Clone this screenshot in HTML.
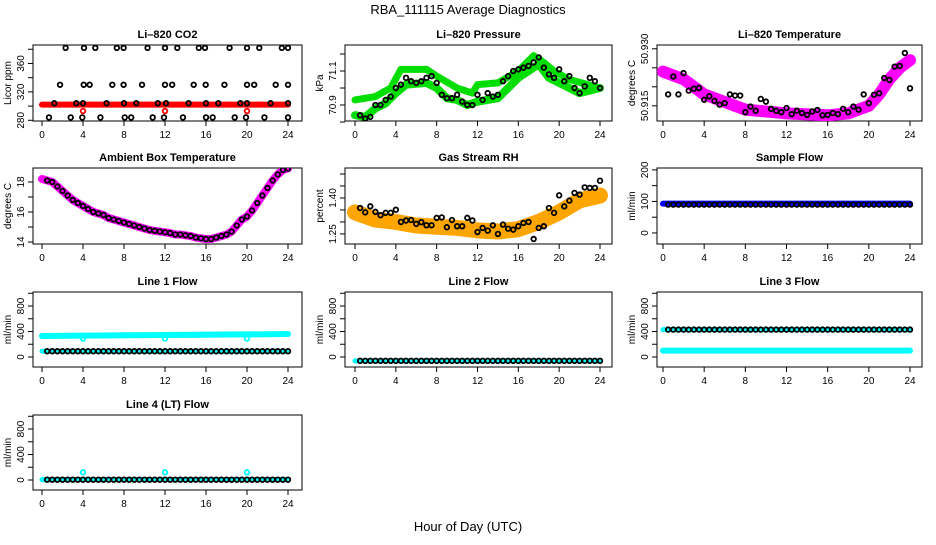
<!DOCTYPE html>
<html><head><meta charset="utf-8"><style>
body{margin:0;background:#fff}
svg text{font-family:"Liberation Sans",Arial,sans-serif;fill:#000}
</style></head><body>
<svg id="chart" width="936" height="540" viewBox="0 0 936 540" xmlns="http://www.w3.org/2000/svg">
<text x="468" y="14" font-size="13" text-anchor="middle">RBA_111115  Average Diagnostics</text>
<text x="468" y="531" font-size="13" text-anchor="middle">Hour of Day (UTC)</text>
</svg>
<script>
// ---- data ----
const xTicks = [0,4,8,12,16,20,24];
const halfHours = [0.5,1,1.5,2,2.5,3,3.5,4,4.5,5,5.5,6,6.5,7,7.5,8,8.5,9,9.5,10,10.5,11,11.5,12,12.5,13,13.5,14,14.5,15,15.5,16,16.5,17,17.5,18,18.5,19,19.5,20,20.5,21,21.5,22,22.5,23,23.5,24];

// CO2
const co2TopHours = [2.3,4.1,5.2,7.3,7.96,10.3,12.0,13.2,15.3,15.9,18.3,20.0,21.2,23.4,24.0];
const co2MidHours = [1.76,4.07,4.65,6.86,7.96,9.76,12.0,12.7,14.8,15.97,17.8,20.0,20.7,22.8,24.0];
const co2LowHours = [1.2,3.35,4.0,6.3,8.0,9.2,11.3,12.1,14.3,16.0,17.2,19.35,20.0,22.3,24.0];
const co2BotHours = [0.68,2.8,3.93,5.7,8.07,8.7,10.8,11.9,13.75,16.0,16.65,18.8,19.9,21.7,24.0];
const co2Levels = [382,330,304,284];
const co2RedOutHours = [4,12,20];
const co2RedOutValue = 293;
const co2BandHours = [0,24];
const co2BandValues = [302,302];

// Pressure
const presUpperHours = [0,2,3.5,4.5,7,8,10,11.5,12,14,16,17.5,18.5,19.5,21,24];
const presUpperValues = [70.93,70.95,71.0,71.11,71.11,71.07,71.0,70.97,71.02,71.03,71.10,71.19,71.15,71.1,71.05,71.0];
const presLowerHours = [0,1,2,3,4,5,7,8,9,10,11,12,14,15,16,17,18,19,20,22,24];
const presLowerValues = [70.84,70.83,70.88,70.91,70.97,71.02,71.03,71.0,70.94,70.93,70.9,70.92,70.94,71.0,71.06,71.1,71.14,71.06,71.03,70.97,71.0];
const presBlack = [70.84,70.82,70.83,70.9,70.9,70.93,70.95,71.0,71.02,71.06,71.04,71.03,71.04,71.06,71.07,71.03,70.96,70.94,70.94,70.96,70.92,70.9,70.9,70.96,70.93,70.97,70.95,70.96,71.04,71.07,71.1,71.11,71.12,71.13,71.15,71.18,71.12,71.08,71.06,71.11,71.04,71.07,71.0,70.97,71.01,71.06,71.04,71.0];

// Li-820 temperature
const tempBandHours = [0,2,4,6,8,12,16,18,20,21,22,23,24];
const tempBandValues = [50.924,50.922,50.918,50.916,50.914,50.913,50.9125,50.913,50.915,50.918,50.922,50.925,50.927];
const tempBlack = [50.918,50.9227,50.918,50.9236,50.919,50.9195,50.9197,50.9166,50.9175,50.9163,50.9153,50.9157,50.918,50.9177,50.9177,50.9133,50.9148,50.9137,50.9168,50.9161,50.9142,50.9137,50.9133,50.9144,50.9128,50.9137,50.9131,50.9126,50.9135,50.9139,50.9125,50.9126,50.9131,50.9128,50.9142,50.9133,50.9148,50.914,50.918,50.9157,50.9179,50.9183,50.9223,50.9218,50.9253,50.9255,50.9289,50.9196];

// Ambient box temperature
const ambBlack = [18.1,18.0,17.7,17.4,17.1,16.8,16.6,16.4,16.2,16.0,15.9,15.8,15.6,15.5,15.4,15.3,15.2,15.1,15.0,14.9,14.8,14.75,14.7,14.65,14.6,14.5,14.5,14.45,14.4,14.3,14.25,14.2,14.2,14.3,14.4,14.5,14.7,15.1,15.5,15.7,16.1,16.6,17.1,17.6,18.1,18.5,18.8,18.9];
const ambBandStart = 18.2;

// Gas stream RH
const rhBandHours = [0,2,4,6,8,10,12,14,16,18,20,22,24];
const rhBandValues = [1.34,1.31,1.30,1.285,1.28,1.275,1.265,1.26,1.27,1.30,1.34,1.39,1.41];
const rhBlack = [1.358,1.34,1.365,1.342,1.328,1.338,1.338,1.351,1.30,1.306,1.308,1.292,1.299,1.286,1.286,1.317,1.319,1.278,1.308,1.282,1.282,1.317,1.306,1.258,1.275,1.264,1.286,1.25,1.289,1.272,1.268,1.282,1.296,1.30,1.229,1.275,1.282,1.358,1.338,1.411,1.365,1.389,1.421,1.414,1.444,1.442,1.442,1.472];

// Flows
const sampleBand = [93,93];
const sampleBlack = 90;
const line1UpperBand = [330,345,360];
const line1LowerBand = [90,90,90];
const line1Black = 90;
const line1OutHours = [4,12,20];
const line1OutValue = 290;
const line2Band = [-60,-60,-60];
const line2Black = -60;
const line3UpperBand = [430,430,430];
const line3LowerBand = [100,100,100];
const line3Black = 430;
const line4Band = [5,5,5];
const line4Black = 5;
const line4OutHours = [4,12,20];
const line4OutValue = 120;
const flowBandHours = [0,12,24];

// ---- drawing ----
const svg = document.getElementById('chart');
const NS = 'http://www.w3.org/2000/svg';
const cols = [{l:33,r:302,x0:42,x24:288},{l:345,r:612,x0:355,x24:600},{l:657,r:922,x0:663,x24:910}];
const rows = [{t:45,b:121},{t:168,b:244},{t:292,b:367},{t:415,b:490}];
function mk(tag, attrs, parent){const e=document.createElementNS(NS,tag);for(const k in attrs)e.setAttribute(k,attrs[k]);(parent||svg).appendChild(e);return e;}

function panel(name, ci, ri, title, ylab, ymin, ymax, ticks, labelTicks, fmt){
  const c=cols[ci], r=rows[ri];
  const g=mk('g',{});
  
  
  const sx=h=>c.x0+(c.x24-c.x0)*h/24;
  const sy=v=>r.b-(v-ymin)/(ymax-ymin)*(r.b-r.t);
  const box=mk('rect',{x:c.l,y:r.t,width:c.r-c.l,height:r.b-r.t,fill:'none',stroke:'#000','stroke-width':1},g);
  
  
  const t=mk('text',{x:(c.l+c.r)/2,y:r.t-7,'font-size':11,'font-weight':'bold','text-anchor':'middle'},g);
  t.textContent=title;
  
  
  const yl=mk('text',{transform:`translate(${c.l-22},${(r.t+r.b)/2}) rotate(-90)`,'font-size':10,'text-anchor':'middle'},g);
  yl.textContent=ylab;
  
  
  const xa=mk('g',{},g);
  
  
  mk('line',{x1:sx(0),x2:sx(24),y1:r.b,y2:r.b,stroke:'#000'},xa);
  xTicks.forEach(h=>{
    mk('line',{x1:sx(h),x2:sx(h),y1:r.b,y2:r.b+5,stroke:'#000'},xa);
    const tl=mk('text',{x:sx(h),y:r.b+17,'font-size':10,'text-anchor':'middle'},xa);
    tl.textContent=h;
  });
  const ya=mk('g',{},g);
  
  
  ticks.forEach(v=>{
    mk('line',{x1:c.l-5,x2:c.l,y1:sy(v),y2:sy(v),stroke:'#000'},ya);
  });
  labelTicks.forEach(v=>{
    const tl=mk('text',{transform:`translate(${c.l-9},${sy(v)}) rotate(-90)`,'font-size':10,'text-anchor':'middle'},ya);
    tl.textContent=fmt(v);
  });
  const clip='clip-'+name;
  const cp=mk('clipPath',{id:clip},g);
  mk('rect',{x:c.l,y:r.t,width:c.r-c.l,height:r.b-r.t},cp);
  const plot=mk('g',{'clip-path':`url(#${clip})`},g);
  return {
    band(hours, vals, color, w, nm){
      const p=mk('polyline',{points:hours.map((h,i)=>sx(h)+','+sy(vals[i])).join(' '),fill:'none',stroke:color,'stroke-width':w,'stroke-linecap':'round','stroke-linejoin':'round'},plot);
      
      
    },
    pts(hours, vals, color, nm){
      const pg=mk('g',{},plot);
      
      
      hours.forEach((h,i)=>{
        const v=Array.isArray(vals)?vals[i]:vals;
        mk('circle',{cx:sx(h),cy:sy(v),r:2.3,fill:'none',stroke:color,'stroke-width':1.8},pg);
      });
    }
  };
}
const f0=v=>String(v), f1=v=>v.toFixed(1), f2=v=>v.toFixed(2), f3=v=>v.toFixed(3);
const flowTicks=[0,200,400,600,800,1000], flowLab=[0,400,800];

let p;
p=panel('co2',0,0,'Li\u2013820 CO2','Licor ppm',279,386,[280,300,320,340,360,380],[280,320,360],f0);
p.band(co2BandHours,co2BandValues,'#ff0000',6,'co2-red-series');
p.pts(co2RedOutHours,co2RedOutValue,'#ff0000','co2-red-outliers');
p.pts(co2TopHours,co2Levels[0],'#000','co2-black-top');
p.pts(co2MidHours,co2Levels[1],'#000','co2-black-mid');
p.pts(co2LowHours,co2Levels[2],'#000','co2-black-low');
p.pts(co2BotHours,co2Levels[3],'#000','co2-black-bottom');

p=panel('pressure',1,0,'Li\u2013820 Pressure','kPa',70.806,71.253,[70.8,70.9,71.0,71.1,71.2],[70.9,71.1],f1);
p.band(presUpperHours,presUpperValues,'#00dd00',7,'pressure-green-upper');
p.band(presLowerHours,presLowerValues,'#00dd00',8,'pressure-green-lower');
p.pts(halfHours,presBlack,'#000','pressure-black-points');

p=panel('li820-temp',2,0,'Li\u2013820 Temperature','degrees C',50.911,50.931,[50.915,50.920,50.925,50.930],[50.915,50.930],f3);
p.band(tempBandHours,tempBandValues,'#ff00ff',12,'li820-temp-magenta');
p.pts(halfHours,tempBlack,'#000','li820-temp-black-points');

p=panel('ambient',0,1,'Ambient Box Temperature','degrees C',13.87,18.93,[14,15,16,17,18],[14,16,18],f0);
p.band([0].concat(halfHours),[ambBandStart].concat(ambBlack),'#ff00ff',8,'ambient-magenta');
p.pts(halfHours,ambBlack,'#000','ambient-black-points');

p=panel('rh',1,1,'Gas Stream RH','percent',1.208,1.525,[1.25,1.30,1.35,1.40,1.45,1.50],[1.25,1.40],f2);
p.band(rhBandHours,rhBandValues,'#ffa500',16,'rh-orange');
p.pts(halfHours,rhBlack,'#000','rh-black-points');

p=panel('sample-flow',2,1,'Sample Flow','ml/min',-35,206,[0,50,100,150,200],[0,100,200],f0);
p.band([0,24],sampleBand,'#0000ff',6,'sample-flow-blue');
p.pts(halfHours,sampleBlack,'#000','sample-flow-black-points');

p=panel('line1',0,2,'Line 1 Flow','ml/min',-157,1020,flowTicks,flowLab,f0);
p.band(flowBandHours,line1UpperBand,'#00ffff',6,'line1-cyan-upper');
p.band(flowBandHours,line1LowerBand,'#00ffff',5,'line1-cyan-lower');
p.pts(line1OutHours,line1OutValue,'#00ffff','line1-cyan-outliers');
p.pts(halfHours,line1Black,'#000','line1-black-points');

p=panel('line2',1,2,'Line 2 Flow','ml/min',-157,1020,flowTicks,flowLab,f0);
p.band(flowBandHours,line2Band,'#00ffff',5,'line2-cyan');
p.pts(halfHours,line2Black,'#000','line2-black-points');

p=panel('line3',2,2,'Line 3 Flow','ml/min',-157,1020,flowTicks,flowLab,f0);
p.band(flowBandHours,line3UpperBand,'#00ffff',5,'line3-cyan-upper');
p.band(flowBandHours,line3LowerBand,'#00ffff',6,'line3-cyan-lower');
p.pts(halfHours,line3Black,'#000','line3-black-points');

p=panel('line4',0,3,'Line 4 (LT) Flow','ml/min',-157,1020,flowTicks,flowLab,f0);
p.band(flowBandHours,line4Band,'#00ffff',5,'line4-cyan');
p.pts(line4OutHours,line4OutValue,'#00ffff','line4-cyan-outliers');
p.pts(halfHours,line4Black,'#000','line4-black-points');
</script>
</body></html>
